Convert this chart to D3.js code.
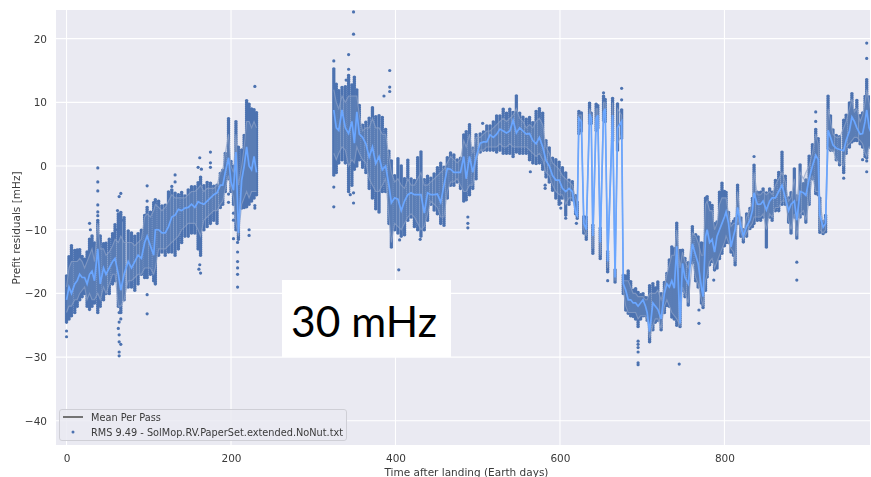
<!DOCTYPE html>
<html>
<head>
<meta charset="utf-8">
<script src="https://cdn.jsdelivr.net/npm/d3@7"></script>
<style>
    html, body { margin: 0; padding: 0; background: #fff; overflow: hidden; }
    text { font-family: "DejaVu Sans", sans-serif; fill: #3a3a3a; }
    #marks, #axes { filter: blur(0.45px); }
</style>
</head>
<body>
<svg id="chart" width="871" height="477"></svg>
<script>
// One entry per group of passes
const passDays = [
    0,3,6,10,13,16,19,22,25,28,
    31,34,38,41,45,48,52,56,59,63,
    66,70,75,79,83,87,91,95,98,102,
    106,108,112,116,120,124,128,132,136,140,
    144,148,152,156,160,163,167,171,175,179,
    183,187,190,193,197,200,203,206,209,213,
    216,219,222,225,228,231,325,328,331,335,
    339,343,347,350,353,356,360,364,368,372,
    376,380,384,388,392,395,399,403,407,411,
    415,419,423,427,431,435,439,443,447,451,
    455,459,463,467,471,475,479,483,486,490,
    494,498,503,507,511,515,519,523,527,531,
    535,539,543,547,551,555,559,563,567,571,
    575,579,583,587,591,595,599,603,607,611,
    615,619,621,623,626,629,632,636,638,640,
    644,646,649,653,655,658,664,667,670,675,
    677,680,683,686,689,692,695,698,701,704,
    706,709,713,716,719,723,727,730,733,736,
    739,742,746,749,752,756,761,765,768,772,
    774,777,779,782,785,788,791,794,797,800,
    802,805,808,811,813,816,820,823,827,831,
    834,836,840,844,847,851,855,858,862,866,
    870,874,878,881,885,888,892,896,899,903,
    907,911,914,916,920,923,926,929,932,936,
    940,945,948,952,955,958,961,965,968,971,
    973,976,979
];

// bottom of the dense dot column
const passLow = [
    -24.5,-24,-23.5,-23,-22,-21,-20.5,-20,-22,-22.5,
    -22,-21.5,-23,-22,-21,-20,-20,-18.5,-18,-22,
    -23,-21,-19,-19,-19.5,-18.5,-17,-17.5,-17.5,-17,
    -18,-18.5,-14,-13.5,-14,-13.5,-13.5,-14,-13,-12,
    -11,-11,-10.5,-10.5,-13,-14,-10,-9.5,-9,-8.5,
    -9,-6.5,-6,-4,-2,-4,-6,-10,-11.5,-6.6,
    -6.5,-6.4,-6,-5.5,-5,-4.5,-1.4,-1,0.5,1,
    0.5,-4,-3,-0.5,0,1,-0.2,-1,-3.5,-5,
    -6.7,-7.2,-4,-4,-9,-12.7,-10,-10.5,-11,-10.8,
    -8.5,-8,-9.5,-10,-11,-10,-8.5,-6,-6.9,-7.5,
    -9,-9.3,-5,-3,-3,-2.5,-3.5,-5.5,-5.3,-4.5,
    -3.5,-2,2.2,2.5,2.5,2.5,2.5,2.2,2.5,2,
    2,2,1.5,2.2,2,2,2,1,0.5,0.4,
    0.5,-0.5,-1.7,-2.5,-3.8,-5,-6,-5,-7.7,-6,
    -5.3,-7.5,-8.2,5.1,5.5,-10.5,-11.5,6.7,6.7,-13.7,
    5.6,6,-14.5,7.2,7,-16.6,4,-18.2,2.5,4.4,
    -20,-22.6,-23.1,-23.5,-23.6,-24,-25.2,-24,-23.5,-23.5,
    -24.2,-27.6,-25.7,-24.5,-24.2,-25.7,-23,-21.9,-22,-23.7,
    -24,-25,-25.2,-19.5,-20.5,-21.8,-15.2,-18,-19,-21.5,
    -22.2,-19.5,-17.4,-15.5,-15,-16.3,-16,-14.5,-13.7,-12.5,
    -12,-12,-13.5,-14,-15.5,-9,-11,-11.9,-11,-9.8,
    -9.5,-9,-8.5,-8.5,-8,-12.7,-8,-8.5,-7,-7,
    -6,-6,-8.8,-10.5,-8,-11.3,-8,-7.5,-8.8,-6,
    -2,-4.3,-4.5,-10.4,-10.6,-10.3,2.8,2.5,2.5,1,
    0.2,-1,2,3,3.8,4,4,3.5,3,1.5,
    1.3,3,2
];

// top of the dense dot column
const passHigh = [
    -17,-14,-12.5,-13,-13,-13,-14,-14.5,-13.5,-11.5,
    -11,-12,-8.5,-11,-12,-12,-11.5,-10.5,-9,-7.5,
    -7,-8,-10,-10.5,-11,-10.5,-10,-7.5,-6.5,-7,
    -5.5,-5,-5.5,-6,-6,-4,-3.5,-4,-4.5,-4,
    -4.5,-3.5,-3,-3,-2.5,-1.5,-3,-2.5,-2.5,-3,
    -3,-1,-0.5,2,7.5,1,0,7,3,2.8,
    5,10.3,10,9,9,8.5,15.4,13,12,12.4,
    12.5,14.5,13,14,12,9.5,6.4,7,7.7,9.3,
    8,8,7.7,6,2.5,1,-1.5,1.2,0,-2,
    1,-2,-2.2,1.5,2.2,-2,-1.5,-1.8,-1.1,0,
    0.5,0,1.5,2.2,2,1,1.5,5,5.5,6.7,
    3,5.2,5.2,5.5,6.4,6.4,7,8,8,9,
    8.5,9,8.5,11,8.5,7.7,7.5,7.8,7,8.8,
    9,8.5,4,3,1.5,1,0.7,0,-1,-2,
    -2.2,-4.5,-5.6,8.8,8.5,-7.7,-8,9.9,8.5,-9.3,
    9.9,9.5,-9.5,11,10.5,-13.2,10.9,-16.3,9.9,8.8,
    -17,-17.1,-16.3,-18,-19.4,-19,-19.8,-20,-19.8,-20.5,
    -20.5,-18.7,-18.4,-19,-18.2,-20,-18,-16.6,-14.5,-12.4,
    -13,-8.8,-13,-13.2,-14.5,-15.2,-9.5,-10.5,-11,-12,
    -12.1,-5,-4.6,-5.5,-6,-9,-8.5,-4,-2.7,-4,
    -4,-7,-9,-8.5,-8.2,-3,-8,-10,-7.5,-6.4,
    -5,0.2,-4,-4,-3.5,-4,-3.5,-4,-2.2,-1,
    2.2,-1.5,-5,-4,-0.3,-4.5,0.2,-2.5,-2.2,1.7,
    3.5,6,4.5,-4.8,-8.5,-7.5,11.1,8,5.9,5,
    4.9,7.2,8,10,11.6,9,10.4,8,8.5,11,
    13.8,11,9
];

// the light blue line
const passMean = [
    -21,-19,-20,-18.5,-18,-17,-17.5,-17.5,-18.5,-17,
    -16.5,-18,-13,-18.5,-16,-17,-16,-15,-14.5,-17,
    -19.5,-17,-15,-16,-15,-14,-14.5,-12,-11,-12.5,
    -14,-10,-10,-10.5,-10.5,-9.5,-8,-7.7,-6.8,-7,
    -6.6,-6.5,-6,-6.5,-5.6,-5.8,-6,-5.5,-5,-4.5,
    -4.2,-3,-3,-1,1.3,-2.5,-3.8,2.2,-10.5,-2.2,
    0,3,0,-0.6,1.5,-1,8.8,6,5.6,8.8,
    6,5.1,7,3.6,8.5,5,4.5,3.5,1.4,3,
    0.4,1.5,-0.6,0,-3,-5.8,-5,-5.2,-7,-5.5,
    -4.5,-4.2,-4.5,-4.5,-4.5,-7.4,-4.2,-4.5,-4.5,-4.4,
    -5.7,-3,-0.4,-0.5,-1,-1,-1,1.5,-2,1.5,
    -1,1.4,3.6,3.8,3.8,4.9,4.5,5,5.8,5.5,
    5.2,5.5,7.2,5.2,6,5.5,5,5.1,4,3.5,
    4.5,3,0.9,0,-1.5,-2.2,-2.2,-3.5,-4,-3.5,
    -4,-7.4,-7.8,7.5,7,-9,-10,8.2,7.5,-11,
    7.5,8,-12,8.5,9,-15,8,-17.5,6,7,
    -18.5,-19.5,-21,-21,-21.5,-21.5,-22,-21.5,-21,-22,
    -23,-26,-21.5,-22,-22.5,-24,-20,-18.5,-19,-18,
    -19.2,-12.6,-24.7,-15.3,-17.5,-18.5,-12.2,-14,-15.3,-19,
    -20.5,-11.1,-10,-12,-11.5,-13.5,-11,-10,-9,-8,
    -7.2,-9,-12.7,-11,-10,-6.5,-9.5,-11,-9.5,-8.5,
    -7,-4.2,-6,-6,-5.5,-6.9,-5.5,-5,-5,-4,
    -3,-5,-7,-6,-5.5,-8.5,-4,-4.2,-4.6,-2,
    0,1.7,1,-7.7,-9.6,-9,5.6,4.5,3.3,2.8,
    2.6,2.4,4,5.5,7.7,7,6,5,5.1,7,
    8.8,6,5
];

// grey band that shows through the dots
const greyUpper = [
    -19,-16,-15,-15,-15,-14.5,-15,-16,-15,-14,
    -13,-15,-9,-13,-13,-14,-13.5,-12.5,-11.5,-12,
    -11,-12,-12,-12,-12.5,-12,-11.5,-8,-7.5,-8,
    -7,-6,-6.5,-7,-6.5,-5.5,-4.5,-5,-5,-5,
    -5,-4.5,-4,-4,-3.5,-3,-4,-3.5,-3.5,-3.5,
    -3,-1,-0.5,2,5,0,-1,5,-3,0,
    3,7,7,6,7,6,12,10,9,11,
    10,11,11,11,11,8,5.5,6,6,7.5,
    6,6,5,5,1.5,-1,-2.5,-2,-3,-3.5,
    -2,-3,-3,-2,-1,-3,-3,-2.5,-2,-1.5,
    -1,-0.5,0.5,1.5,1,0.5,1,4,3,5,
    2,4.5,4.5,5,5.5,5.5,6,6.5,7,7.5,
    7,7.5,8,9,7.5,7,6,6.5,6,7,
    7.5,6.5,3,2,0.5,0,-0.5,-1.5,-2,-2.5,
    -3,-5,-6,8,8,-8,-9,9,8,-10,
    9,9,-10,10,10,-14,10,-17,9,8,
    -18,-18,-18,-19,-20,-20,-20.5,-20.5,-20.5,-21,
    -21,-20,-20,-20,-19.5,-21,-19,-17,-15.5,-14,
    -14,-10,-16,-13.5,-15,-16,-10.5,-11,-12,-14,
    -14,-6,-5.5,-7,-7,-10,-9,-6,-5,-5,
    -5,-7.5,-9.5,-9,-9,-4,-8.5,-10.5,-8,-7,
    -5.5,-1,-4.5,-4.5,-4,-4.5,-4,-4.5,-3,-2,
    -1,-2.5,-5.5,-5,-2,-5.5,-1,-2,-1,0,
    2,5,3.5,-5.5,-8.8,-8,9,7,5,4.5,
    4.5,6,7,9,10.5,8.5,9,7,8,10,
    12,10,8
];

const greyLower = [
    -23,-22,-22,-21,-21,-20,-19.5,-19,-21,-20,
    -21,-21,-20,-21,-19,-20,-18.5,-17,-17,-22,
    -22,-21,-18,-18,-17.5,-17,-17,-16,-16,-16,
    -17,-16,-13,-13,-13,-12.5,-12,-11.5,-11,-10,
    -9.5,-9,-9,-9,-10,-11,-8.5,-8,-7.5,-7,
    -7,-6,-5.5,-3.5,-1.5,-3.5,-5,-9,-11,-6,
    -5,-4,-5,-4,-4,-4,2,1,2,3,
    2.5,0,1,0.5,3,2,1,0.5,-2,-3,
    -4,-4,-3,-2,-8,-12,-9,-9.5,-10,-9,
    -8,-7.5,-8,-9,-10,-9.5,-7.5,-5.5,-6,-6.5,
    -8,-8,-4,-2.5,-2.5,-2,-3,-4,-4,-3,
    -3,1,2.5,2.5,3,3,3,3,3.5,3,
    3,3.5,3,3,3,3,3,2.5,2,1.5,
    2,1,-1,-1.5,-3,-4,-4.5,-4.5,-6,-5,
    -5,-7,-8,6,6,-10,-11,7,7,-13,
    6,6.5,-14,7.5,8,-16,6,-18,3.5,5,
    -19.5,-22,-23,-23,-23,-23,-24,-23.5,-23.5,-23.5,
    -24,-27,-25,-24,-24,-25.5,-22,-21,-22,-23,
    -23.5,-24,-25,-19,-20,-21.5,-15,-17.5,-18.5,-21,
    -22,-18,-17,-15,-14.5,-16,-15,-14,-13,-12,
    -11,-12,-13,-13.5,-15,-8,-10.5,-11.5,-10.5,-9.5,
    -9,-8,-8,-8,-7.5,-10,-7.5,-8,-6.5,-6.5,
    -5.5,-5.5,-8.5,-10,-7.5,-11,-7.5,-7,-8.5,-5.5,
    -1.5,-4,-4,-10,-10.5,-10,3,2.5,2.5,1,
    0.5,0,3,3.5,4,4.5,4.5,4,3.5,2,
    1.5,3,2.5
];

// stray dots outside the dense columns
const strayDays = [
    0,0,38,38,38,38,38,38,66,64,62,65,67,62,64,28,29,
    64,64,66,63,64,64,66,64,64,98,98,98,98,
    132,132,128,175,175,175,162,160,164,162,163,161,
    197,197,203,203,203,208,208,208,208,208,208,229,222,222,229,229,
    325,325,325,343,343,349,349,340,349,349,345,
    393,393,393,386,404,430,405,488,488,488,506,564,
    582,582,601,601,601,607,620,653,675,675,658,
    695,695,695,695,695,695,745,769,769,787,888,888,
    911,911,836,945,968,973,973,973,973
];
const strayValues = [
    -25.9,-26.8,-0.3,-2.5,-3.9,-6.1,-7.2,-7.8,-4.3,-4.8,-7,-7.8,-8.5,-10,-9.5,-9,-10,
    -23,-24.5,-24,-25.5,-26.5,-27.6,-28,-29.2,-29.8,-3.1,-5.5,-20.2,-23.2,
    -1.4,-2.5,-3.2,2.2,0.5,-0.2,1.3,-0.2,-0.5,-15.5,-16.8,-16.2,
    -5.7,-4.4,-7.4,-8.5,-11.4,-12,-13.5,-15,-16,-17,-19,12.5,-10,-10.9,-6.2,-6.6,
    16.5,-3.3,-6.4,17.5,15.2,24.2,20.7,13.5,-4.2,-5.8,-4.5,
    15,12.4,11.7,11,-16.3,-11.5,-11.6,-8,-9,-9.7,6.7,-0.9,
    -3,-3.5,-5,-5.8,-6.6,-8.2,-9,11.5,12.2,10.4,-18,
    -27.5,-28,-28.5,-29.2,-30.9,-31.2,-31.1,-22.6,-24.7,-17.9,-15.1,-17.9,
    8.5,7,1.5,-1.9,1,19.3,16.9,-0.9,0.8
];

const xTicks = [0, 200, 400, 600, 800];
const yTicks = [20, 10, 0, -10, -20, -30, -40];
const legendLine = "Mean Per Pass";
const legendDots = "RMS 9.49 - SolMop.RV.PaperSet.extended.NoNut.txt";
const stampText = "30 mHz";

const dotColor = "#4c72b0";
const meanColor = "#6aa6ff";
const greyColor = "#8fa3c8";

const svg = d3.select("#chart");
const plot = { left: 56, right: 870, top: 10, bottom: 445 };

const x = d3.scaleLinear().domain([-12.8, 977]).range([plot.left, plot.right]);
const y = d3.scaleLinear().domain([-43.8, 24.5]).range([plot.bottom, plot.top]);

svg.append("defs").append("clipPath").attr("id", "plotClip")
    .append("rect")
    .attr("x", plot.left).attr("y", plot.top)
    .attr("width", plot.right - plot.left).attr("height", plot.bottom - plot.top);

svg.append("rect")
    .attr("x", plot.left).attr("y", plot.top)
    .attr("width", plot.right - plot.left).attr("height", plot.bottom - plot.top)
    .attr("fill", "#eaeaf2");

// Grid
const grid = svg.append("g");
grid.selectAll(".gx").data(xTicks).join("line")
    .attr("x1", d => x(d)).attr("x2", d => x(d))
    .attr("y1", plot.top).attr("y2", plot.bottom)
    .attr("stroke", "#fff").attr("stroke-width", 1.1);
grid.selectAll(".gy").data(yTicks).join("line")
    .attr("x1", plot.left).attr("x2", plot.right)
    .attr("y1", d => y(d)).attr("y2", d => y(d))
    .attr("stroke", "#fff").attr("stroke-width", 1.1);

const marks = svg.append("g").attr("id", "marks").attr("clip-path", "url(#plotClip)");

// Dense dot columns, a zero dash with round caps stacks them up as dots
marks.selectAll(".col").data(passDays).join("line")
    .attr("class", "col")
    .attr("x1", d => x(d)).attr("x2", d => x(d))
    .attr("y1", (d, i) => y(passLow[i])).attr("y2", (d, i) => y(passHigh[i]))
    .attr("stroke", dotColor).attr("stroke-width", 3.6)
    .attr("stroke-linecap", "round").attr("stroke-dasharray", "0 2");

marks.selectAll(".stray").data(strayDays).join("circle")
    .attr("class", "stray")
    .attr("cx", d => x(d)).attr("cy", (d, i) => y(strayValues[i]))
    .attr("r", 1.6).attr("fill", dotColor);

// No passes in the solar conjunction gap, so the lines are drawn in two parts
const idx = d3.range(passDays.length);
const parts = [idx.filter(i => passDays[i] < 280), idx.filter(i => passDays[i] > 280)];

const band = d3.area().x(i => x(passDays[i])).y0(i => y(greyLower[i])).y1(i => y(greyUpper[i]));
const upper = d3.line().x(i => x(passDays[i])).y(i => y(greyUpper[i]));
const lower = d3.line().x(i => x(passDays[i])).y(i => y(greyLower[i]));
const mean = d3.line().x(i => x(passDays[i])).y(i => y(passMean[i]));

parts.forEach(part => {
    marks.append("path").attr("d", band(part)).attr("fill", greyColor).attr("fill-opacity", 0.22);
    marks.append("path").attr("d", upper(part)).attr("fill", "none").attr("stroke", greyColor).attr("stroke-width", 1.1).attr("stroke-opacity", 0.7);
    marks.append("path").attr("d", lower(part)).attr("fill", "none").attr("stroke", greyColor).attr("stroke-width", 1.1).attr("stroke-opacity", 0.7);
    marks.append("path").attr("d", mean(part)).attr("fill", "none").attr("stroke", meanColor).attr("stroke-width", 1.7);
});

// Axes
const axes = svg.append("g").attr("id", "axes");
const xAxis = axes.append("g")
    .attr("transform", `translate(0,${plot.bottom})`)
    .call(d3.axisBottom(x).tickValues(xTicks).tickSize(0).tickPadding(10));
const yAxis = axes.append("g")
    .attr("transform", `translate(${plot.left},0)`)
    .call(d3.axisLeft(y).tickValues(yTicks).tickSize(0).tickPadding(9));
xAxis.select(".domain").remove();
yAxis.select(".domain").remove();
axes.selectAll(".tick text").style("font-size", "10.5px").style("font-family", '"DejaVu Sans", sans-serif');

axes.append("text")
    .attr("x", 466.5).attr("y", 476)
    .attr("text-anchor", "middle").attr("font-size", 10.5)
    .text("Time after landing (Earth days)");
axes.append("text")
    .attr("transform", "translate(20,228) rotate(-90)")
    .attr("text-anchor", "middle").attr("font-size", 10.5)
    .text("Prefit residuals [mHz]");

// Legend
const legend = axes.append("g");
legend.append("rect")
    .attr("x", 59.5).attr("y", 409.5).attr("width", 287).attr("height", 31).attr("rx", 2.5)
    .attr("fill", "#eaeaf2").attr("fill-opacity", 0.85).attr("stroke", "#cfcfd6");
legend.append("line")
    .attr("x1", 63).attr("x2", 83).attr("y1", 417).attr("y2", 417)
    .attr("stroke", "#666").attr("stroke-width", 1.8);
legend.append("circle").attr("cx", 73).attr("cy", 432).attr("r", 1.5).attr("fill", dotColor);
legend.append("text").attr("x", 91).attr("y", 421).attr("font-size", 9.75).text(legendLine);
legend.append("text").attr("x", 91).attr("y", 435.5).attr("font-size", 9.75).text(legendDots);

// White stamp pasted over the chart
svg.append("rect").attr("x", 282).attr("y", 280).attr("width", 169).attr("height", 77).attr("fill", "#fff");
svg.append("text")
    .attr("x", 291).attr("y", 337)
    .attr("font-size", 42.5)
    .style("font-family", 'Lato, sans-serif')
    .style("fill", "#000")
    .text(stampText);
</script>
</body>
</html>
